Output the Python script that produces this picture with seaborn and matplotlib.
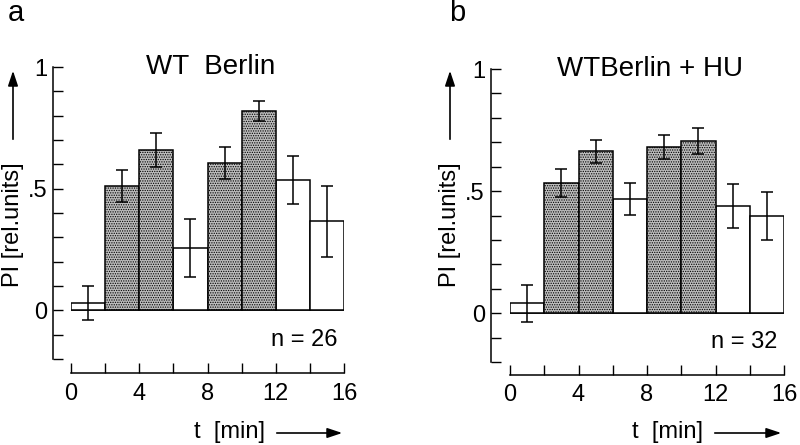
import numpy as np
import pandas as pd
import seaborn as sns
import matplotlib.pyplot as plt

sns.set_style('white')
plt.rcParams['font.family'] = ['Liberation Sans', 'DejaVu Sans']
plt.rcParams['hatch.linewidth'] = 0.6
plt.rcParams['text.color'] = 'black'

# dados
t_centro = [1, 3, 5, 7, 9, 11, 13, 15]
sombreado = [False, True, True, False, True, True, False, False]

pi_wt = [0.03, 0.51, 0.66, 0.255, 0.605, 0.82, 0.535, 0.366]
err_wt = [0.07, 0.066, 0.07, 0.12, 0.066, 0.04, 0.10, 0.145]

pi_hu = [0.04, 0.533, 0.663, 0.468, 0.681, 0.704, 0.439, 0.398]
err_hu = [0.075, 0.057, 0.048, 0.067, 0.05, 0.054, 0.089, 0.10]

paineis = ['a', 'b']
titulos = ['WT  Berlin', 'WTBerlin + HU']
n_moscas = ['n = 26', 'n = 32']

fig = plt.figure(figsize=(8, 4.45), dpi=100)

# posicoes dos eixos em pixels (esq, dir, topo y=1, base y=-0.2)
geo = [(71, 344, 67, 359, 13, 10), (510, 784, 69, 362, 14, 9)]

for i, (pi, err) in enumerate([(pi_wt, err_wt), (pi_hu, err_hu)]):
    x0, x1, ytop, ybot, off_y, off_x = geo[i]
    ax = fig.add_axes([x0 / 800, 1 - ybot / 445, (x1 - x0) / 800, (ybot - ytop) / 445])

    df = pd.DataFrame({'t': t_centro, 'PI': pi, 'shade': sombreado})
    sns.barplot(data=df, x='t', y='PI', hue='shade', native_scale=True, width=1.0,
                palette={True: '#bcbcbc', False: 'white'}, dodge=False,
                edgecolor='black', linewidth=1.1, legend=False, ax=ax)
    for p, s in zip(sorted(ax.patches, key=lambda p: p.get_x()), sombreado):
        if s:
            p.set_hatch('.......')
    ax.errorbar(t_centro, pi, yerr=err, fmt='none', ecolor='black',
                elinewidth=1.1, capsize=4, capthick=1.1)

    ax.set_xlim(0, 16)
    ax.set_ylim(-0.2, 1.0)
    ax.set_xticks(np.arange(0, 17, 2))
    ax.set_xticklabels(['0', '', '4', '', '8', '', '12', '', '16'])
    yt = np.round(np.arange(-0.2, 1.01, 0.1), 2)
    ax.set_yticks(yt)
    ax.set_yticklabels({1.0: '1', 0.5: '.5', 0.0: '0'}.get(v, '') for v in yt)
    ax.tick_params(direction='in', length=7, width=1.0, labelsize=17, colors='black',
                   bottom=True, left=True)
    ax.tick_params(axis='y', pad=4)
    ax.tick_params(axis='x', pad=7)

    for s in ['top', 'right']:
        ax.spines[s].set_visible(False)
    ax.spines['left'].set_position(('outward', off_y))
    ax.spines['bottom'].set_position(('outward', off_x))
    ax.spines['left'].set_bounds(-0.2, 1.0)
    ax.spines['bottom'].set_bounds(0, 16)
    for s in ['left', 'bottom']:
        ax.spines[s].set_color('black')
        ax.spines[s].set_linewidth(1.1)
    ax.set_xlabel('')
    ax.set_ylabel('')
    ax.axhline(0, color='black', lw=1.1, zorder=0)

    ax.text(8.2, 1.0, titulos[i], ha='center', va='center', fontsize=20)
    ax.text(15.6, -0.12, n_moscas[i], ha='right', va='center', fontsize=17)

    # letra do painel
    fig.text([8, 449][i] / 800, 1 - 21 / 445, paineis[i], ha='left', va='baseline', fontsize=21)

    # rotulo y com seta
    xl = [13, 450][i]
    fig.text(xl / 800, 1 - 225 / 445, 'PI [rel.units]', rotation=90, ha='center', va='center', fontsize=17)
    fig.add_artist(plt.Annotation('', xy=(xl / 800, 1 - 68 / 445), xytext=(xl / 800, 1 - 142 / 445),
                                  xycoords='figure fraction', textcoords='figure fraction',
                                  arrowprops=dict(arrowstyle='-|>,head_length=0.9,head_width=0.3',
                                                  color='black', lw=1.2)))

    # rotulo x com seta
    xt = [229, 668][i]
    fig.text(xt / 800, 1 - 432 / 445, 't  [min]', ha='center', va='center', fontsize=17)
    fig.add_artist(plt.Annotation('', xy=([345, 784][i] / 800, 1 - 433 / 445),
                                  xytext=([274, 712][i] / 800, 1 - 433 / 445),
                                  xycoords='figure fraction', textcoords='figure fraction',
                                  arrowprops=dict(arrowstyle='-|>,head_length=0.9,head_width=0.3',
                                                  color='black', lw=1.2)))

fig.savefig('out.png', dpi=100)
